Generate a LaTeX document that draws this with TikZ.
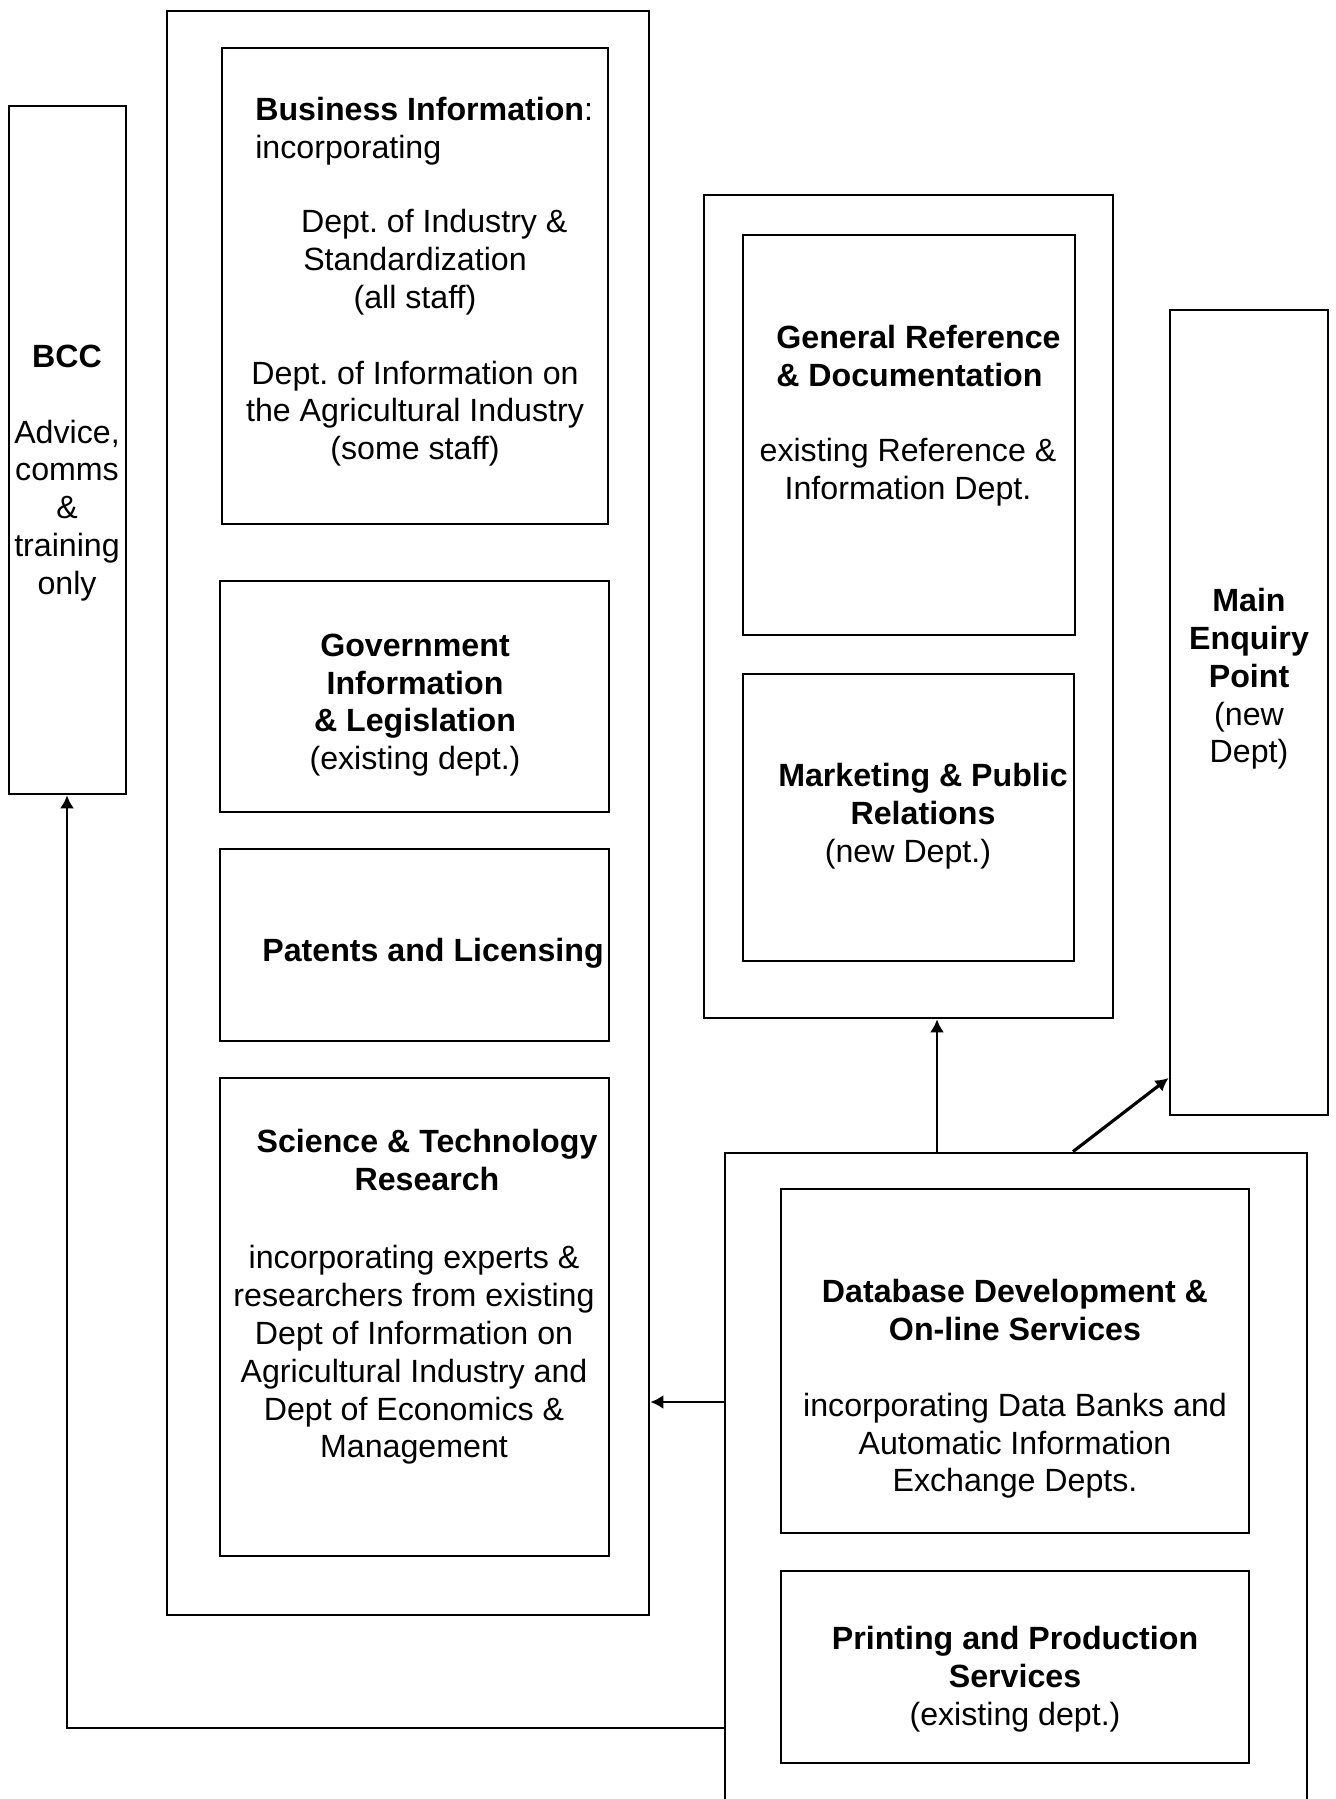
\documentclass[tikz,border=0pt]{standalone}
\usepackage{fontspec}
\setmainfont{Liberation Sans}
\usetikzlibrary{positioning,fit,arrows.meta}
\frenchspacing
\tikzset{
 dept/.style
  = {rectangle, draw, inner sep=0pt, line width=1.6pt},
 txt/.style
  = {align=center, inner sep=0pt},
 conn/.style
  = {draw, -{Latex[length=2.6mm,width=2.8mm]}, line width=1.2pt},
}
\begin{document}
\begin{tikzpicture}[x=0.2mm, y=-0.2mm,
    font=\fontsize{18.3}{21.5}\selectfont]
\clip (0,0) rectangle (1335,1799);

% BCC
\node[dept, fit={(9,106) (126,794)}] (bcc) {};
\node[txt] (bcc-t) at (67,473)
  {\textbf{BCC}\\[21.5pt]Advice,\\comms\\\&\\training\\only};

% Information departments
\node[dept, fit={(167,11) (649,1615)}] (info) {};

\node[dept, fit={(222,48) (608,524)}] (bus) {};
\node[txt, align=left, anchor=west] (bus-h) at (255,131)
  {\textbf{Business Information}:\\incorporating};
\node[txt] (bus-t) at (415,338)
  {\hspace*{1.2em}Dept. of Industry \&\\Standardization\\(all staff)\\[21.5pt]Dept. of Information on\\the Agricultural Industry\\(some staff)};

\node[dept, fit={(220,581) (609,812)}] (gov) {};
\node[txt] (gov-t) at (415,705)
  {\textbf{Government}\\\textbf{Information}\\\textbf{\& Legislation}\\(existing dept.)};

\node[dept, fit={(220,849) (609,1041)}] (pat) {};
\node[txt] (pat-t) at (433,953) {\textbf{Patents and Licensing}};

\node[dept, fit={(220,1078) (609,1556)}] (sci) {};
\node[txt] (sci-h) at (427,1160) {\textbf{Science \& Technology}\\\textbf{Research}};
\node[txt] (sci-t) at (414,1355)
  {incorporating experts \&\\researchers from existing\\Dept of Information on\\Agricultural Industry and\\Dept of Economics \&\\Management};

% Reference departments
\node[dept, fit={(704,195) (1113,1018)}] (ref) {};

\node[dept, fit={(743,235) (1075,635)}] (gen) {};
\node[txt, align=left, anchor=west] (gen-h) at (776,356)
  {\textbf{General Reference}\\\textbf{\& Documentation}};
\node[txt] (gen-t) at (908,472) {existing Reference \&\\Information Dept.};

\node[dept, fit={(743,674) (1074,961)}] (mkt) {};
\node[txt] (mkt-h) at (923,794) {\textbf{Marketing \& Public}\\\textbf{Relations}};
\node[txt] (mkt-t) at (908,854) {(new Dept.)};

% Main Enquiry Point
\node[dept, fit={(1170,310) (1328,1115)}] (mep) {};
\node[txt] (mep-t) at (1249,679)
  {\textbf{Main}\\\textbf{Enquiry}\\\textbf{Point}\\(new\\Dept)};

% Services
\node[dept, fit={(725,1153) (1307,1830)}] (svc) {};

\node[dept, fit={(781,1189) (1249,1533)}] (dbs) {};
\node[txt] (dbs-t) at (1015,1389)
  {\textbf{Database Development \&}\\\textbf{On-line Services}\\[21.5pt]incorporating Data Banks and\\Automatic Information\\Exchange Depts.};

\node[dept, fit={(781,1571) (1249,1763)}] (prt) {};
\node[txt] (prt-t) at (1015,1679)
  {\textbf{Printing and Production}\\\textbf{Services}\\(existing dept.)};

% Connectors
\coordinate (bcc-turn) at (67,1728);
\coordinate (sci-in) at (0,1402);
\coordinate (ref-in) at (937,0);
\coordinate (mep-out) at (1073,0);
\coordinate (mep-in) at (0,1078);
\draw[conn] (svc.west |- bcc-turn) -- (bcc-turn) -- (bcc-turn |- bcc.south);
\draw[conn] (svc.west |- sci-in) -- (info.east |- sci-in);
\draw[conn] (ref-in |- svc.north) -- (ref-in |- ref.south);
\draw[conn, line width=1.8pt] (mep-out |- svc.north) -- (mep.west |- mep-in);

\end{tikzpicture}
\end{document}
